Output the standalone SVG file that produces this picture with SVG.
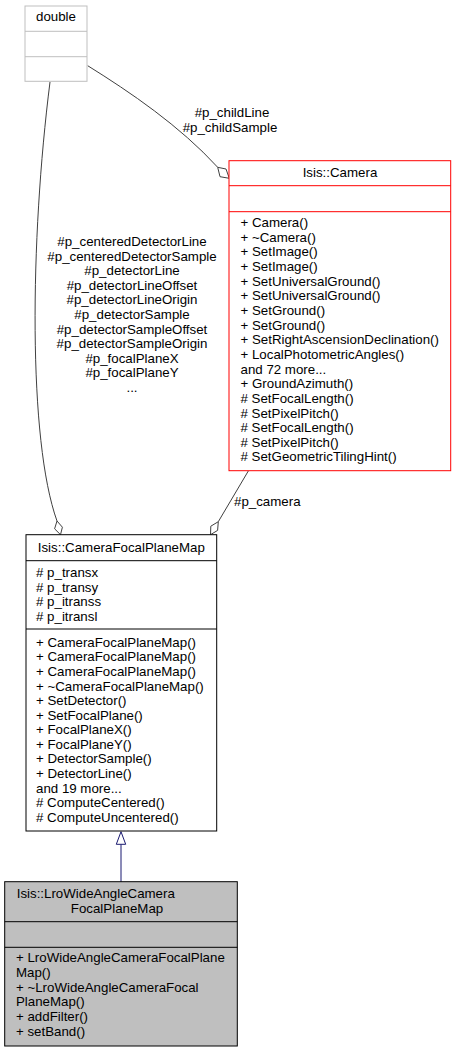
<svg xmlns="http://www.w3.org/2000/svg" width="456" height="1052" viewBox="0 0 456 1052">
<style>
text{font-family:"Liberation Sans",Arial,sans-serif;font-size:13.3px;fill:#000}
.c{text-anchor:middle}
.box{fill:#fff;stroke:#000;stroke-width:1}
.edge{fill:none;stroke:#404040;stroke-width:1}
.dia{fill:#fff;stroke:#404040;stroke-width:1}
</style>
<rect width="456" height="1052" fill="#fff"/>
<g id="connectors">
  <path class="edge" d="M87.7,65.7 C130,92 180,126 217.7,167.3"/>
  <polygon class="dia" points="217.7,167.3 226,169 229.3,178.3 220,176.7"/>
  <text class="c" x="232" y="117">#p_childLine</text>
  <text class="c" x="230" y="132">#p_childSample</text>
  <path class="edge" d="M50,82 C30,240 28,440 57,521"/>
  <polygon class="dia" points="57,521 62.4,527.2 60.5,534.7 54.6,528.8"/>
  <g class="c">
    <text class="c" x="132" y="246">#p_centeredDetectorLine</text>
    <text class="c" x="132" y="260.6">#p_centeredDetectorSample</text>
    <text class="c" x="132" y="275.2">#p_detectorLine</text>
    <text class="c" x="132" y="289.8">#p_detectorLineOffset</text>
    <text class="c" x="132" y="304.4">#p_detectorLineOrigin</text>
    <text class="c" x="132" y="319">#p_detectorSample</text>
    <text class="c" x="132" y="333.6">#p_detectorSampleOffset</text>
    <text class="c" x="132" y="348.2">#p_detectorSampleOrigin</text>
    <text class="c" x="132" y="362.8">#p_focalPlaneX</text>
    <text class="c" x="132" y="377.4">#p_focalPlaneY</text>
    <text class="c" x="132" y="392">...</text>
  </g>
  <path class="edge" d="M248.3,471 L218.3,521.7"/>
  <polygon class="dia" points="218.3,521.7 217.6,530.4 210.5,534.7 210.8,526.2"/>
  <text x="234" y="506">#p_camera</text>
  <path fill="none" stroke="#191970" stroke-width="1" d="M121,882 L121,844.3"/>
  <polygon fill="#fff" stroke="#191970" stroke-width="1" points="121,831.7 125.7,844.3 116.3,844.3"/>
</g>
<g id="node-double">
  <rect x="25" y="6" width="62" height="75.3" fill="#fff" stroke="#bfbfbf"/>
  <line x1="25" y1="31.3" x2="87" y2="31.3" stroke="#bfbfbf"/>
  <line x1="25" y1="56.7" x2="87" y2="56.7" stroke="#bfbfbf"/>
  <text class="c" x="56" y="21.3">double</text>
</g>
<g id="node-camera">
  <rect x="229" y="160.7" width="221.7" height="310" fill="#fff" stroke="#ff0000"/>
  <line x1="229" y1="185.7" x2="450.7" y2="185.7" stroke="#ff0000"/>
  <line x1="229" y1="211.7" x2="450.7" y2="211.7" stroke="#ff0000"/>
  <text class="c" x="340" y="177">Isis::Camera</text>
  <text x="240.5" y="227">+ Camera()</text>
  <text x="240.5" y="241.7">+ ~Camera()</text>
  <text x="240.5" y="256.3">+ SetImage()</text>
  <text x="240.5" y="271">+ SetImage()</text>
  <text x="240.5" y="285.6">+ SetUniversalGround()</text>
  <text x="240.5" y="300.3">+ SetUniversalGround()</text>
  <text x="240.5" y="314.9">+ SetGround()</text>
  <text x="240.5" y="329.6">+ SetGround()</text>
  <text x="240.5" y="344.2">+ SetRightAscensionDeclination()</text>
  <text x="240.5" y="358.9">+ LocalPhotometricAngles()</text>
  <text x="240.5" y="373.5">and 72 more...</text>
  <text x="240.5" y="388.2">+ GroundAzimuth()</text>
  <text x="240.5" y="402.8">#  SetFocalLength()</text>
  <text x="240.5" y="417.5">#  SetPixelPitch()</text>
  <text x="240.5" y="432.1">#  SetFocalLength()</text>
  <text x="240.5" y="446.8">#  SetPixelPitch()</text>
  <text x="240.5" y="461.4">#  SetGeometricTilingHint()</text>
</g>
<g id="node-cfpm">
  <rect x="26" y="534.7" width="190.7" height="296.3" class="box"/>
  <line x1="26" y1="560.7" x2="216.7" y2="560.7" stroke="#000"/>
  <line x1="26" y1="629" x2="216.7" y2="629" stroke="#000"/>
  <text class="c" x="121.3" y="552">Isis::CameraFocalPlaneMap</text>
  <text x="36" y="577">#  p_transx</text>
  <text x="36" y="591.6">#  p_transy</text>
  <text x="36" y="606.2">#  p_itranss</text>
  <text x="36" y="620.8">#  p_itransl</text>
  <text x="36" y="646.7">+ CameraFocalPlaneMap()</text>
  <text x="36" y="661.3">+ CameraFocalPlaneMap()</text>
  <text x="36" y="675.9">+ CameraFocalPlaneMap()</text>
  <text x="36" y="690.5">+ ~CameraFocalPlaneMap()</text>
  <text x="36" y="705">+ SetDetector()</text>
  <text x="36" y="719.6">+ SetFocalPlane()</text>
  <text x="36" y="734.2">+ FocalPlaneX()</text>
  <text x="36" y="748.8">+ FocalPlaneY()</text>
  <text x="36" y="763.4">+ DetectorSample()</text>
  <text x="36" y="778">+ DetectorLine()</text>
  <text x="36" y="792.6">and 19 more...</text>
  <text x="36" y="807.2">#  ComputeCentered()</text>
  <text x="36" y="821.8">#  ComputeUncentered()</text>
</g>
<g id="node-lro">
  <rect x="4.7" y="881.7" width="232.6" height="164.3" fill="#bfbfbf" stroke="#000"/>
  <line x1="4.7" y1="921.7" x2="237.3" y2="921.7" stroke="#000"/>
  <line x1="4.7" y1="947.3" x2="237.3" y2="947.3" stroke="#000"/>
  <text x="16.7" y="897.7">Isis::LroWideAngleCamera</text>
  <text class="c" x="117" y="913.3">FocalPlaneMap</text>
  <text x="16" y="962">+ LroWideAngleCameraFocalPlane</text>
  <text x="16" y="976.8">Map()</text>
  <text x="16" y="991.6">+ ~LroWideAngleCameraFocal</text>
  <text x="16" y="1006.4">PlaneMap()</text>
  <text x="16" y="1021.2">+ addFilter()</text>
  <text x="16" y="1036">+ setBand()</text>
</g>
</svg>
